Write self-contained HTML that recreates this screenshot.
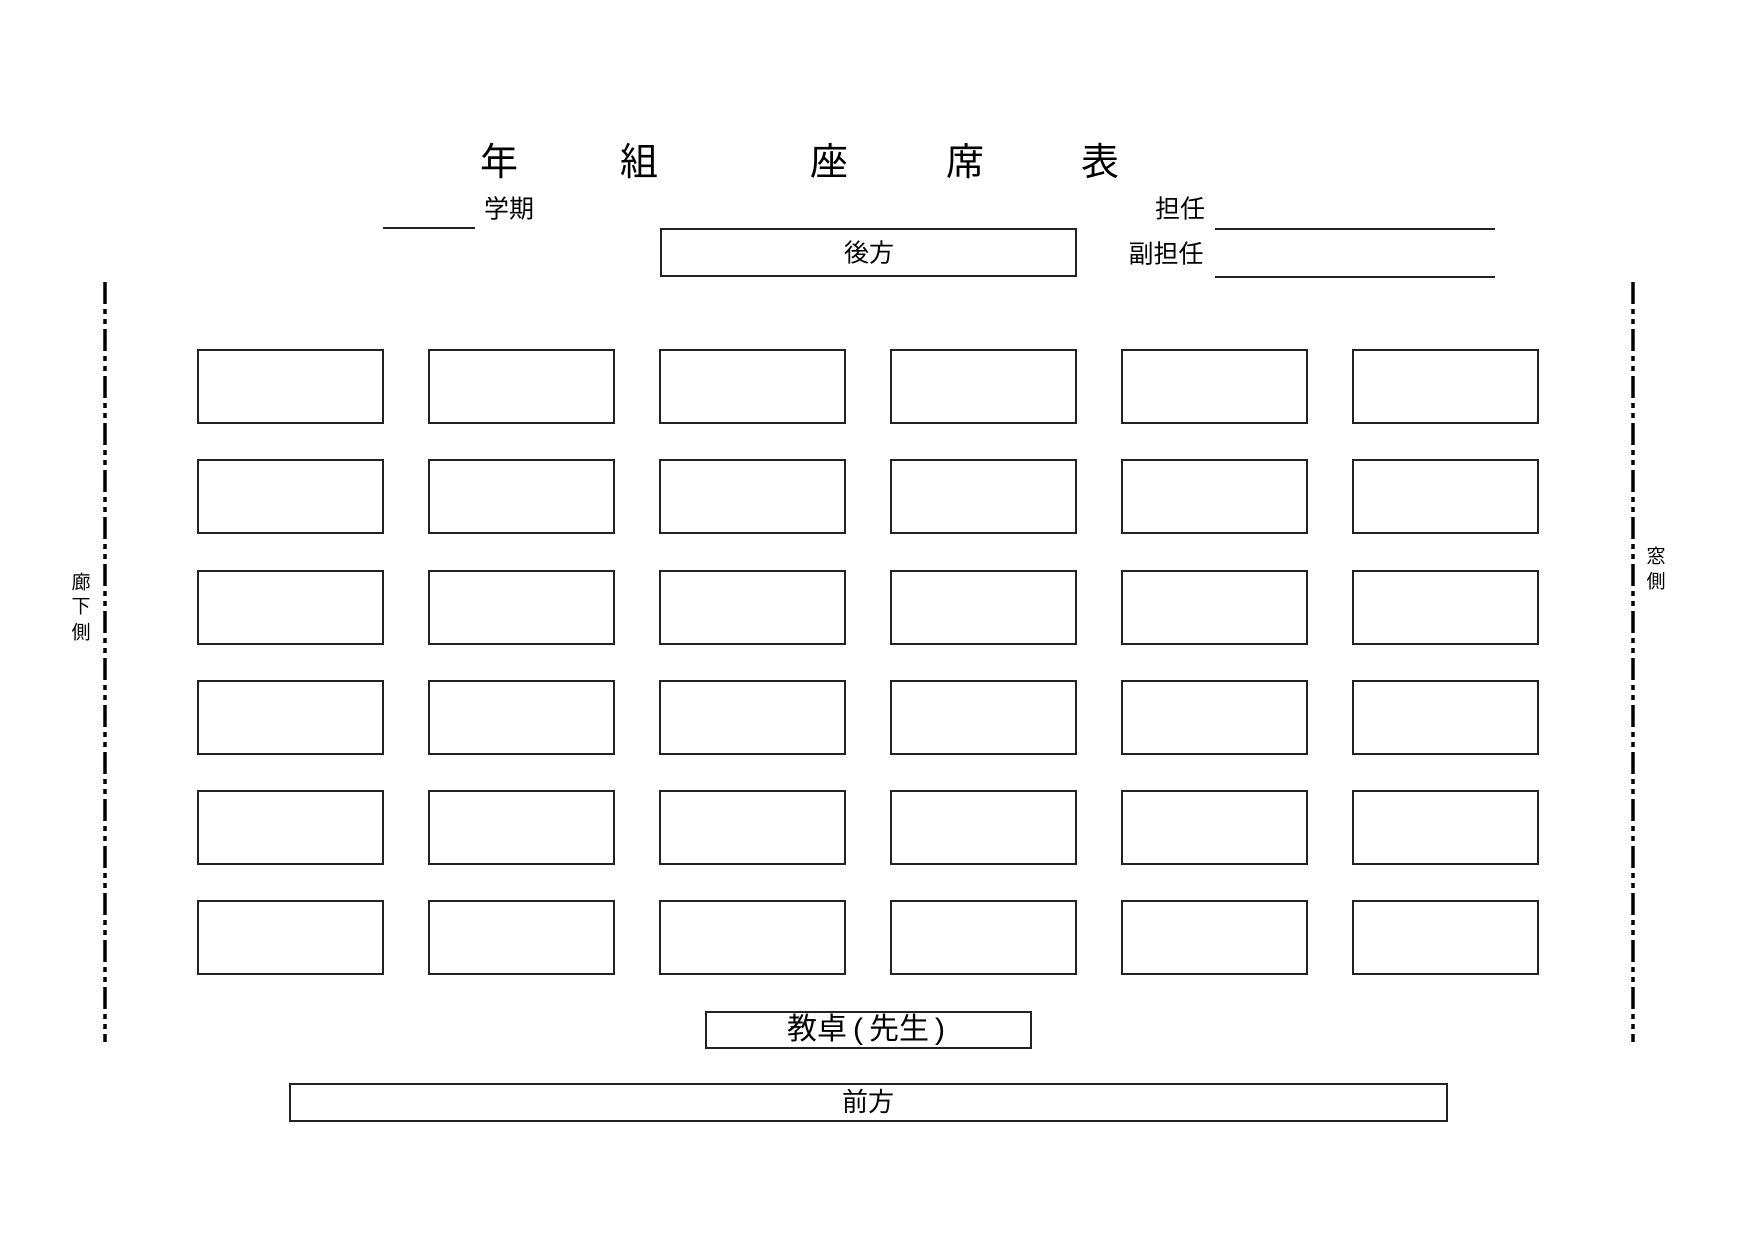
<!DOCTYPE html>
<html><head><meta charset="utf-8"><style>
html,body{margin:0;padding:0;background:#fff}
body{width:1754px;height:1240px;position:relative;overflow:hidden;font-family:"Liberation Sans","Noto Sans CJK JP",sans-serif;color:#000}
.t{position:absolute;transform:translate(-50%,-50%);white-space:nowrap;line-height:1}
.b{position:absolute;border:2.5px solid #222;box-sizing:border-box;background:#fff}
.l{position:absolute;height:0;border-top:2.5px solid #222}
</style></head><body>
<div class="t" style="left:499px;top:163px;font-size:38px">年</div>
<div class="t" style="left:639px;top:163px;font-size:38px">組</div>
<div class="t" style="left:829px;top:163px;font-size:38px">座</div>
<div class="t" style="left:965px;top:163px;font-size:38px">席</div>
<div class="t" style="left:1100px;top:163px;font-size:38px">表</div>

<div class="l" style="left:383px;top:227px;width:92px"></div>
<div class="t" style="left:509px;top:210px;font-size:25px">学期</div>

<div class="b" style="left:660px;top:228px;width:417px;height:49px"></div>
<div class="t" style="left:869px;top:254px;font-size:25px">後方</div>

<div class="t" style="left:1180px;top:210px;font-size:25px">担任</div>
<div class="l" style="left:1215px;top:228px;width:280px"></div>
<div class="t" style="left:1166px;top:255px;font-size:25px">副担任</div>
<div class="l" style="left:1215px;top:276px;width:280px"></div>

<svg style="position:absolute;left:0;top:0" width="1754" height="1240">
<line x1="105" y1="282" x2="105" y2="1042" stroke="#000" stroke-width="3.5" stroke-dasharray="22 5 5 5 5 5"/>
<line x1="1633" y1="282" x2="1633" y2="1042" stroke="#000" stroke-width="3.5" stroke-dasharray="22 5 5 5 5 5"/>
</svg>

<div class="t" style="left:81px;top:583px;font-size:19px">廊</div>
<div class="t" style="left:81px;top:607px;font-size:19px">下</div>
<div class="t" style="left:81px;top:633px;font-size:19px">側</div>
<div class="t" style="left:1656px;top:557px;font-size:19px">窓</div>
<div class="t" style="left:1656px;top:582px;font-size:19px">側</div>

<div class="b" style="left:197px;top:349px;width:187px;height:75px"></div>
<div class="b" style="left:428px;top:349px;width:187px;height:75px"></div>
<div class="b" style="left:659px;top:349px;width:187px;height:75px"></div>
<div class="b" style="left:890px;top:349px;width:187px;height:75px"></div>
<div class="b" style="left:1121px;top:349px;width:187px;height:75px"></div>
<div class="b" style="left:1352px;top:349px;width:187px;height:75px"></div>

<div class="b" style="left:197px;top:459px;width:187px;height:75px"></div>
<div class="b" style="left:428px;top:459px;width:187px;height:75px"></div>
<div class="b" style="left:659px;top:459px;width:187px;height:75px"></div>
<div class="b" style="left:890px;top:459px;width:187px;height:75px"></div>
<div class="b" style="left:1121px;top:459px;width:187px;height:75px"></div>
<div class="b" style="left:1352px;top:459px;width:187px;height:75px"></div>

<div class="b" style="left:197px;top:570px;width:187px;height:75px"></div>
<div class="b" style="left:428px;top:570px;width:187px;height:75px"></div>
<div class="b" style="left:659px;top:570px;width:187px;height:75px"></div>
<div class="b" style="left:890px;top:570px;width:187px;height:75px"></div>
<div class="b" style="left:1121px;top:570px;width:187px;height:75px"></div>
<div class="b" style="left:1352px;top:570px;width:187px;height:75px"></div>

<div class="b" style="left:197px;top:680px;width:187px;height:75px"></div>
<div class="b" style="left:428px;top:680px;width:187px;height:75px"></div>
<div class="b" style="left:659px;top:680px;width:187px;height:75px"></div>
<div class="b" style="left:890px;top:680px;width:187px;height:75px"></div>
<div class="b" style="left:1121px;top:680px;width:187px;height:75px"></div>
<div class="b" style="left:1352px;top:680px;width:187px;height:75px"></div>

<div class="b" style="left:197px;top:790px;width:187px;height:75px"></div>
<div class="b" style="left:428px;top:790px;width:187px;height:75px"></div>
<div class="b" style="left:659px;top:790px;width:187px;height:75px"></div>
<div class="b" style="left:890px;top:790px;width:187px;height:75px"></div>
<div class="b" style="left:1121px;top:790px;width:187px;height:75px"></div>
<div class="b" style="left:1352px;top:790px;width:187px;height:75px"></div>

<div class="b" style="left:197px;top:900px;width:187px;height:75px"></div>
<div class="b" style="left:428px;top:900px;width:187px;height:75px"></div>
<div class="b" style="left:659px;top:900px;width:187px;height:75px"></div>
<div class="b" style="left:890px;top:900px;width:187px;height:75px"></div>
<div class="b" style="left:1121px;top:900px;width:187px;height:75px"></div>
<div class="b" style="left:1352px;top:900px;width:187px;height:75px"></div>

<div class="b" style="left:705px;top:1011px;width:327px;height:38px"></div>
<div class="t" style="left:866px;top:1030px;font-size:30px">教卓<span style="font-family:'Liberation Sans',sans-serif;margin:0 6px">(</span>先生<span style="font-family:'Liberation Sans',sans-serif;margin-left:6px">)</span></div>

<div class="b" style="left:289px;top:1083px;width:1159px;height:39px"></div>
<div class="t" style="left:868px;top:1102px;font-size:26px">前方</div>
</body></html>
